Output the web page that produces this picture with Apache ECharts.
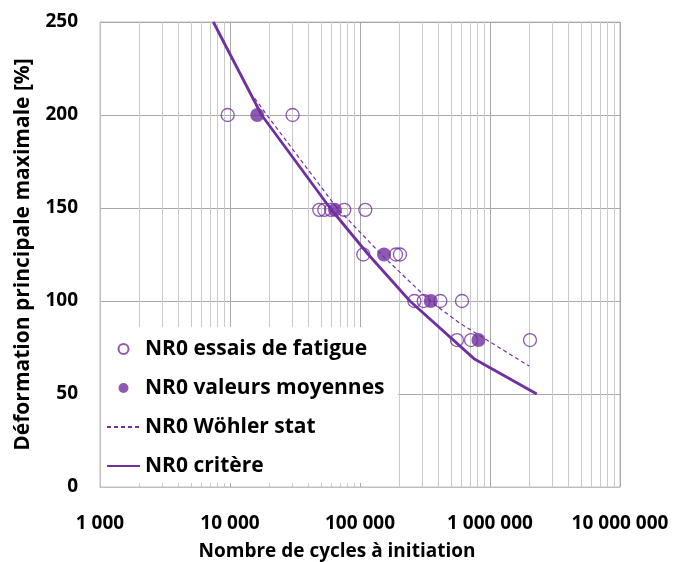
<!DOCTYPE html>
<html>
<head>
<meta charset="utf-8">
<script src="https://cdn.jsdelivr.net/npm/echarts@6/dist/echarts.min.js"></script>
<style>
html, body { margin: 0; padding: 0; background: #fff; }
#main { width: 676px; height: 562px; }
</style>
</head>
<body>
<div id="main"></div>
<script>
// essais individuels
var essaisN = [9600, 30300, 48600, 53100, 59800, 75700, 109900, 106000, 189000, 203000, 262000, 309000, 415000, 609000, 557000, 714000, 2030000];
var essaisS = [200, 200, 149, 149, 149, 149, 149, 125, 125, 125, 100, 100, 100, 100, 79, 79, 79];
// valeurs moyennes
var moyN = [16200, 64200, 153000, 350000, 815000];
var moyS = [200, 149, 125, 100, 79];
// courbe de Wöhler statistique
var wohlerN = [15500, 19200, 66500, 146000, 345000, 588000, 2000000];
var wohlerS = [209, 200, 150, 125, 100, 88, 65];
// critère
var critN = [7440, 17500, 58800, 115900, 242000, 753000, 2290000];
var critS = [250, 200, 150, 125, 100, 69, 50];

var purple = '#7030A0';
var font = 'Open Sans';

function pairs(xs, ys) {
    return xs.map(function (x, i) { return [x, ys[i]]; });
}

var myChart = echarts.init(document.getElementById('main'));
option = {
    backgroundColor: '#fff',
    animation: false,
    grid: {
        left: 100,
        right: 56,
        top: 22,
        bottom: 75,
        outerBoundsMode: 'none',
        containLabel: false,
        show: true,
        borderColor: '#BFBFBF',
        borderWidth: 1
    },
    graphic: [{
        type: 'rect',
        z: 1,
        shape: { x: 101, y: 327, width: 297, height: 156 },
        style: { fill: '#fff' }
    }],
    legend: {
        orient: 'vertical',
        left: 101,
        top: 332,
        itemWidth: 33,
        itemHeight: 10,
        itemGap: 15,
        textStyle: {
            fontFamily: font,
            fontWeight: 'bold',
            fontSize: 21,
            lineHeight: 24,
            color: '#000'
        },
        data: [
            'NR0 essais de fatigue',
            'NR0 valeurs moyennes',
            { name: 'NR0 Wöhler stat', itemStyle: { opacity: 0 } },
            { name: 'NR0 critère', itemStyle: { opacity: 0 } }
        ]
    },
    xAxis: {
        type: 'log',
        logBase: 10,
        min: 1000,
        max: 10000000,
        name: 'Nombre de cycles à initiation',
        nameLocation: 'middle',
        nameGap: 55,
        nameTextStyle: {
            fontFamily: font, fontWeight: 'bold', fontSize: 19, color: '#000',
            padding: [0, 46, 0, 0]
        },
        axisLine: { lineStyle: { color: '#BFBFBF' } },
        axisTick: { show: false },
        axisLabel: {
            margin: 27,
            fontFamily: font,
            fontWeight: 'bold',
            fontSize: 19,
            color: '#000',
            formatter: function (v) {
                return String(Math.round(v)).replace(/\B(?=(\d{3})+(?!\d))/g, ' ');
            }
        },
        splitLine: { show: true, lineStyle: { color: '#A8A8A8', width: 1 } },
        minorTick: { show: false, splitNumber: 9 },
        minorSplitLine: { show: true, lineStyle: { color: '#CACACA', width: 1 } }
    },
    yAxis: {
        type: 'value',
        min: 0,
        max: 250,
        interval: 50,
        name: 'Déformation principale maximale [%]',
        nameLocation: 'middle',
        nameGap: 66,
        nameTextStyle: { fontFamily: font, fontWeight: 'bold', fontSize: 21, color: '#000' },
        axisLine: { show: true, lineStyle: { color: '#BFBFBF' } },
        axisTick: { show: false },
        axisLabel: {
            margin: 22,
            fontFamily: font,
            fontWeight: 'bold',
            fontSize: 19,
            color: '#000'
        },
        splitLine: { show: true, lineStyle: { color: '#A8A8A8', width: 1 } }
    },
    series: [
        {
            name: 'NR0 essais de fatigue',
            type: 'scatter',
            symbol: 'circle',
            symbolSize: 13,
            itemStyle: { color: 'rgba(255,255,255,0)', borderColor: purple, borderWidth: 1.3 },
            data: pairs(essaisN, essaisS)
        },
        {
            name: 'NR0 valeurs moyennes',
            type: 'scatter',
            symbol: 'circle',
            symbolSize: 14,
            itemStyle: { color: purple },
            data: pairs(moyN, moyS)
        },
        {
            name: 'NR0 Wöhler stat',
            type: 'line',
            symbol: 'none',
            lineStyle: { color: purple, width: 1.2, type: [4, 3] },
            itemStyle: { color: purple },
            data: pairs(wohlerN, wohlerS)
        },
        {
            name: 'NR0 critère',
            type: 'line',
            symbol: 'none',
            lineStyle: { color: purple, width: 2.8 },
            itemStyle: { color: purple },
            data: pairs(critN, critS)
        }
    ]
};
myChart.setOption(option);
</script>
</body>
</html>
